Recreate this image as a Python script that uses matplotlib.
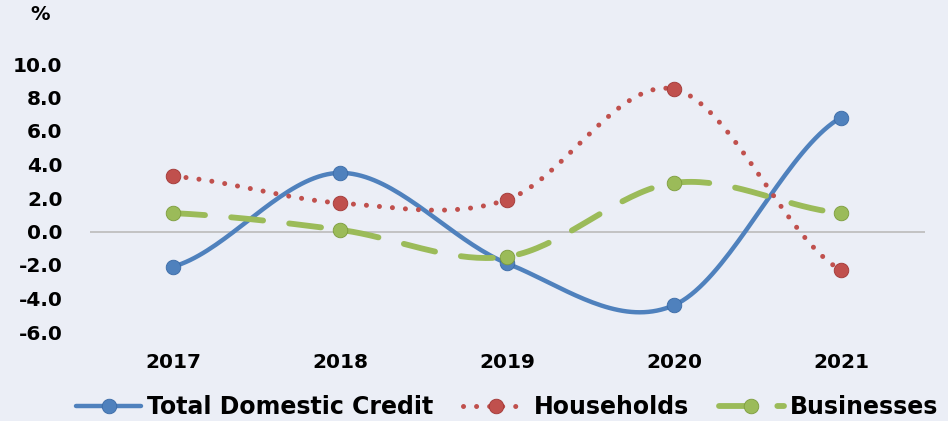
import numpy as np
import matplotlib.pyplot as plt
from matplotlib.lines import Line2D

years = ["2017", "2018", "2019", "2020", "2021"]
total_credit = [-2.1, 3.5, -1.9, -4.4, 6.8]
households = [3.3, 1.7, 1.9, 8.5, -2.3]
businesses = [1.1, 0.1, -1.5, 2.9, 1.1]
y_ticks = [-6.0, -4.0, -2.0, 0.0, 2.0, 4.0, 6.0, 8.0, 10.0]

BG = "#EBEEF6"


def smooth(xs, ys, n=40):
    # catmull-rom through the points, like excel's smoothed line
    xs = np.asarray(xs, float)
    ys = np.asarray(ys, float)
    px = np.concatenate([[2 * xs[0] - xs[1]], xs, [2 * xs[-1] - xs[-2]]])
    py = np.concatenate([[ys[0]], ys, [ys[-1]]])
    out_x, out_y = [], []
    for i in range(1, len(px) - 2):
        t = np.linspace(0, 1, n)
        for arr, p in ((out_x, px), (out_y, py)):
            p0, p1, p2, p3 = p[i - 1], p[i], p[i + 1], p[i + 2]
            arr.extend(0.5 * (2 * p1 + (-p0 + p2) * t
                              + (2 * p0 - 5 * p1 + 4 * p2 - p3) * t ** 2
                              + (-p0 + 3 * p1 - 3 * p2 + p3) * t ** 3))
    return out_x, out_y


fig = plt.figure(figsize=(9.48, 4.21), dpi=100, facecolor=BG)
ax = fig.add_axes([89.5 / 948, 1 - 348.75 / 421, 835 / 948, 301.5 / 421])
ax.set_facecolor(BG)

x = np.arange(len(years))
ax.axhline(0, color="#BFBFBF", lw=1.3, zorder=1)

series = [
    (total_credit, "Total Domestic Credit", "#4F81BD", "#3A6AA6", dict(ls="-", lw=3.2)),
    (households, "Households", "#C0504D", "#A13634", dict(ls=(0, (0.01, 2.6)), lw=3.6)),
    (businesses, "Businesses", "#9BBB59", "#7C9C3C", dict(ls=(0, (5.5, 4.5)), lw=4.2)),
]

handles = []
for vals, name, col, edge, st in series:
    sx, sy = smooth(x, vals)
    ax.plot(sx, sy, color=col, solid_capstyle="round", dash_capstyle="round", zorder=2, **st)
    ax.plot(x, vals, "o", ms=10.5, color=col, mec=edge, mew=0.6, zorder=3)
    handles.append(Line2D([], [], color=col, marker="o", ms=10.5, mec=edge, mew=0.6,
                          solid_capstyle="round", dash_capstyle="round", **st))

ax.set_xlim(-0.5, len(years) - 0.5)
ax.set_ylim(-7, 11)
ax.set_xticks(x)
ax.set_xticklabels(years, fontsize=14.5, fontweight="bold")
ax.set_yticks(y_ticks)
ax.set_yticklabels([f"{v:.1f}" for v in y_ticks], fontsize=14.5, fontweight="bold")
ax.tick_params(length=0)
ax.tick_params(axis="y", pad=19.5)
ax.tick_params(axis="x", pad=3)
for s in ax.spines.values():
    s.set_visible(False)

fig.text(40 / 948, 1 - 15 / 421, "%", fontsize=14, fontweight="bold", ha="center", va="center")

fig.legend(handles=handles, labels=[s[1] for s in series], loc="center",
           bbox_to_anchor=(0.535, 1 - 407 / 421), ncol=3, frameon=False,
           prop=dict(size=17, weight="bold"), handlelength=2.75, handletextpad=0.25,
           columnspacing=1.25)

fig.savefig("out.png", dpi=100, facecolor=BG)
